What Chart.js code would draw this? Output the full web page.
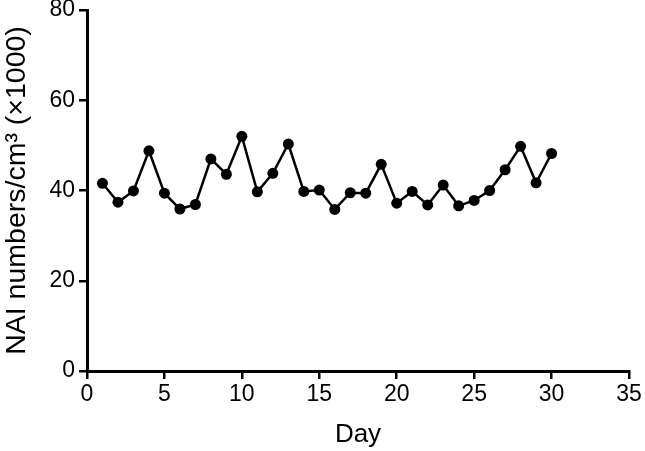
<!DOCTYPE html>
<html><head><meta charset="utf-8">
<script src="https://cdn.jsdelivr.net/npm/chart.js@4.4.1/dist/chart.umd.min.js"></script>
<style>html,body{margin:0;padding:0;background:#fff;overflow:hidden}</style>
</head><body>
<canvas id="c" width="645" height="451"></canvas>
<script>
const days = [1,2,3,4,5,6,7,8,9,10,11,12,13,14,15,16,17,18,19,20,21,22,23,24,25,26,27,28,29,30];
const naiValues = [41.6,37.4,39.9,48.8,39.4,35.9,36.9,47.0,43.6,52.0,39.7,43.8,50.3,39.8,40.1,35.8,39.5,39.4,45.8,37.2,39.8,36.8,41.2,36.6,37.8,40.0,44.6,49.8,41.7,48.2];
const xTicks = [0,5,10,15,20,25,30,35];
const yTicks = [0,20,40,60,80];
const xTitle = 'Day';
const yTitle = 'NAI numbers/cm\u00B3 (\u00D71000)';

const FONT = '"Liberation Sans", Arial, Helvetica, sans-serif';
const points = days.map((d, i) => ({x: d, y: naiValues[i]}));

new Chart(document.getElementById('c'), {
  type: 'scatter',
  data: {
    datasets: [{
      data: points,
      showLine: true,
      borderColor: '#000',
      backgroundColor: '#000',
      borderWidth: 2.5,
      pointRadius: 5.5,
      pointHoverRadius: 5.5,
      pointBorderWidth: 0,
      tension: 0,
      clip: false
    }]
  },
  options: {
    responsive: false,
    animation: false,
    devicePixelRatio: 1,
    layout: {padding: {top: 10, right: 16, left: 0, bottom: 0}},
    plugins: {legend: {display: false}, tooltip: {enabled: false}},
    scales: {
      x: {
        type: 'linear',
        min: 0, max: 35,
        afterBuildTicks: s => { s.ticks = xTicks.map(v => ({value: v})); },
        afterFit: s => { s.height = 80; s.paddingLeft = 0; s.paddingRight = 0; },
        grid: {display: true, drawOnChartArea: false, drawTicks: true, tickLength: 8, color: '#000', lineWidth: 2.5},
        border: {display: true, color: '#000', width: 3},
        ticks: {color: '#000', font: {family: FONT, size: 23}, padding: 2, maxRotation: 0, autoSkip: false},
        title: {display: true, text: xTitle, color: '#000', font: {family: FONT, size: 26}, padding: {top: 0, bottom: 1}}
      },
      y: {
        type: 'linear',
        min: 0, max: 80,
        afterBuildTicks: s => { s.ticks = yTicks.map(v => ({value: v})); },
        afterFit: s => { s.width = 87; s.paddingTop = 0; s.paddingBottom = 0; },
        grid: {display: true, drawOnChartArea: false, drawTicks: true, tickLength: 8, color: '#000', lineWidth: 2.5},
        border: {display: true, color: '#000', width: 3},
        ticks: {color: '#000', font: {family: FONT, size: 23}, padding: 4, autoSkip: false},
        title: {display: true, text: yTitle, color: '#000', font: {family: FONT, size: 28.5}, padding: {top: 0, bottom: 0}}
      }
    }
  }
});
</script>
</body></html>
